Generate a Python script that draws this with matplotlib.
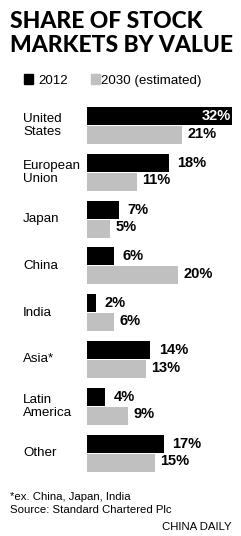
import matplotlib
matplotlib.use("Agg")
import matplotlib.pyplot as plt
import matplotlib.transforms as mtransforms

# data
regions = ["United\nStates", "European\nUnion", "Japan", "China", "India", "Asia*", "Latin\nAmerica", "Other"]
share_2012 = [32, 18, 7, 6, 2, 14, 4, 17]
share_2030 = [21, 11, 5, 20, 6, 13, 9, 15]
series_names = ["2012", "2030 (estimated)"]

black = "#000000"
grey = "#c0c0c0"

W, H = 241, 536
fig = plt.figure(figsize=(W / 100, H / 100), dpi=100)
ax = fig.add_axes([0, 0, 1, 1])

px_per_unit = 4.53
x0 = 87
ax.set_xlim(-x0 / px_per_unit, (W - x0) / px_per_unit)
step = 46.8
top = 125.5
ax.set_ylim((H - top) / step, -top / step)
ax.axis("off")

ypos = list(range(len(regions)))
bh = 0.385
off = 0.203
ax.barh([y - off for y in ypos], share_2012, height=bh, color=black)
ax.barh([y + off for y in ypos], share_2030, height=bh, color=grey)

valfont = dict(family=["Liberation Sans", "DejaVu Sans"], weight="bold", size=10.5)
for y, v in zip(ypos, share_2012):
    if v >= 30:
        ax.annotate(f"{v}%", (v, y - off), xytext=(-1, 0), textcoords="offset points",
                    ha="right", va="center", color="white", **valfont)
    else:
        ax.annotate(f"{v}%", (v, y - off), xytext=(6, 0), textcoords="offset points",
                    ha="left", va="center", color="black", **valfont)
for y, v in zip(ypos, share_2030):
    ax.annotate(f"{v}%", (v, y + off), xytext=(4, 1), textcoords="offset points",
                ha="left", va="center", color="black", **valfont)

labfont = dict(family=["Liberation Sans", "DejaVu Sans"], size=9.6)
trans = mtransforms.blended_transform_factory(fig.transFigure, ax.transData)
for y, lab in zip(ypos, regions):
    ax.text(23 / W, y, lab, transform=trans, ha="left", va="center",
            linespacing=1.15, **labfont)

# title
titlefont = dict(family=["Lato", "DejaVu Sans"], weight="black", size=16.5)
fig.text(10 / W, 1 - 28 / H, "SHARE OF STOCK", ha="left", va="baseline", **titlefont)
fig.text(10 / W, 1 - 52 / H, "MARKETS BY VALUE", ha="left", va="baseline", **titlefont)

# legend
legfont = dict(family=["Liberation Sans", "DejaVu Sans"], size=9.6)
fig.patches.append(plt.Rectangle((24 / W, 1 - 84 / H), 9 / W, 10 / H, color=black,
                                 transform=fig.transFigure))
fig.text(38 / W, 1 - 84 / H, series_names[0], ha="left", va="baseline", **legfont)
fig.patches.append(plt.Rectangle((91 / W, 1 - 84 / H), 9 / W, 10 / H, color=grey,
                                 transform=fig.transFigure))
fig.text(101 / W, 1 - 84 / H, series_names[1], ha="left", va="baseline", **legfont)

# notes
notefont = dict(family=["Liberation Sans", "DejaVu Sans"], size=8.2)
fig.text(10 / W, 1 - 500 / H, "*ex. China, Japan, India", ha="left", va="baseline", **notefont)
fig.text(10 / W, 1 - 513 / H, "Source: Standard Chartered Plc", ha="left", va="baseline", **notefont)
fig.text(232 / W, 1 - 530 / H, "CHINA DAILY", ha="right", va="baseline", **notefont)

fig.savefig("out.png", dpi=100, facecolor="white")
